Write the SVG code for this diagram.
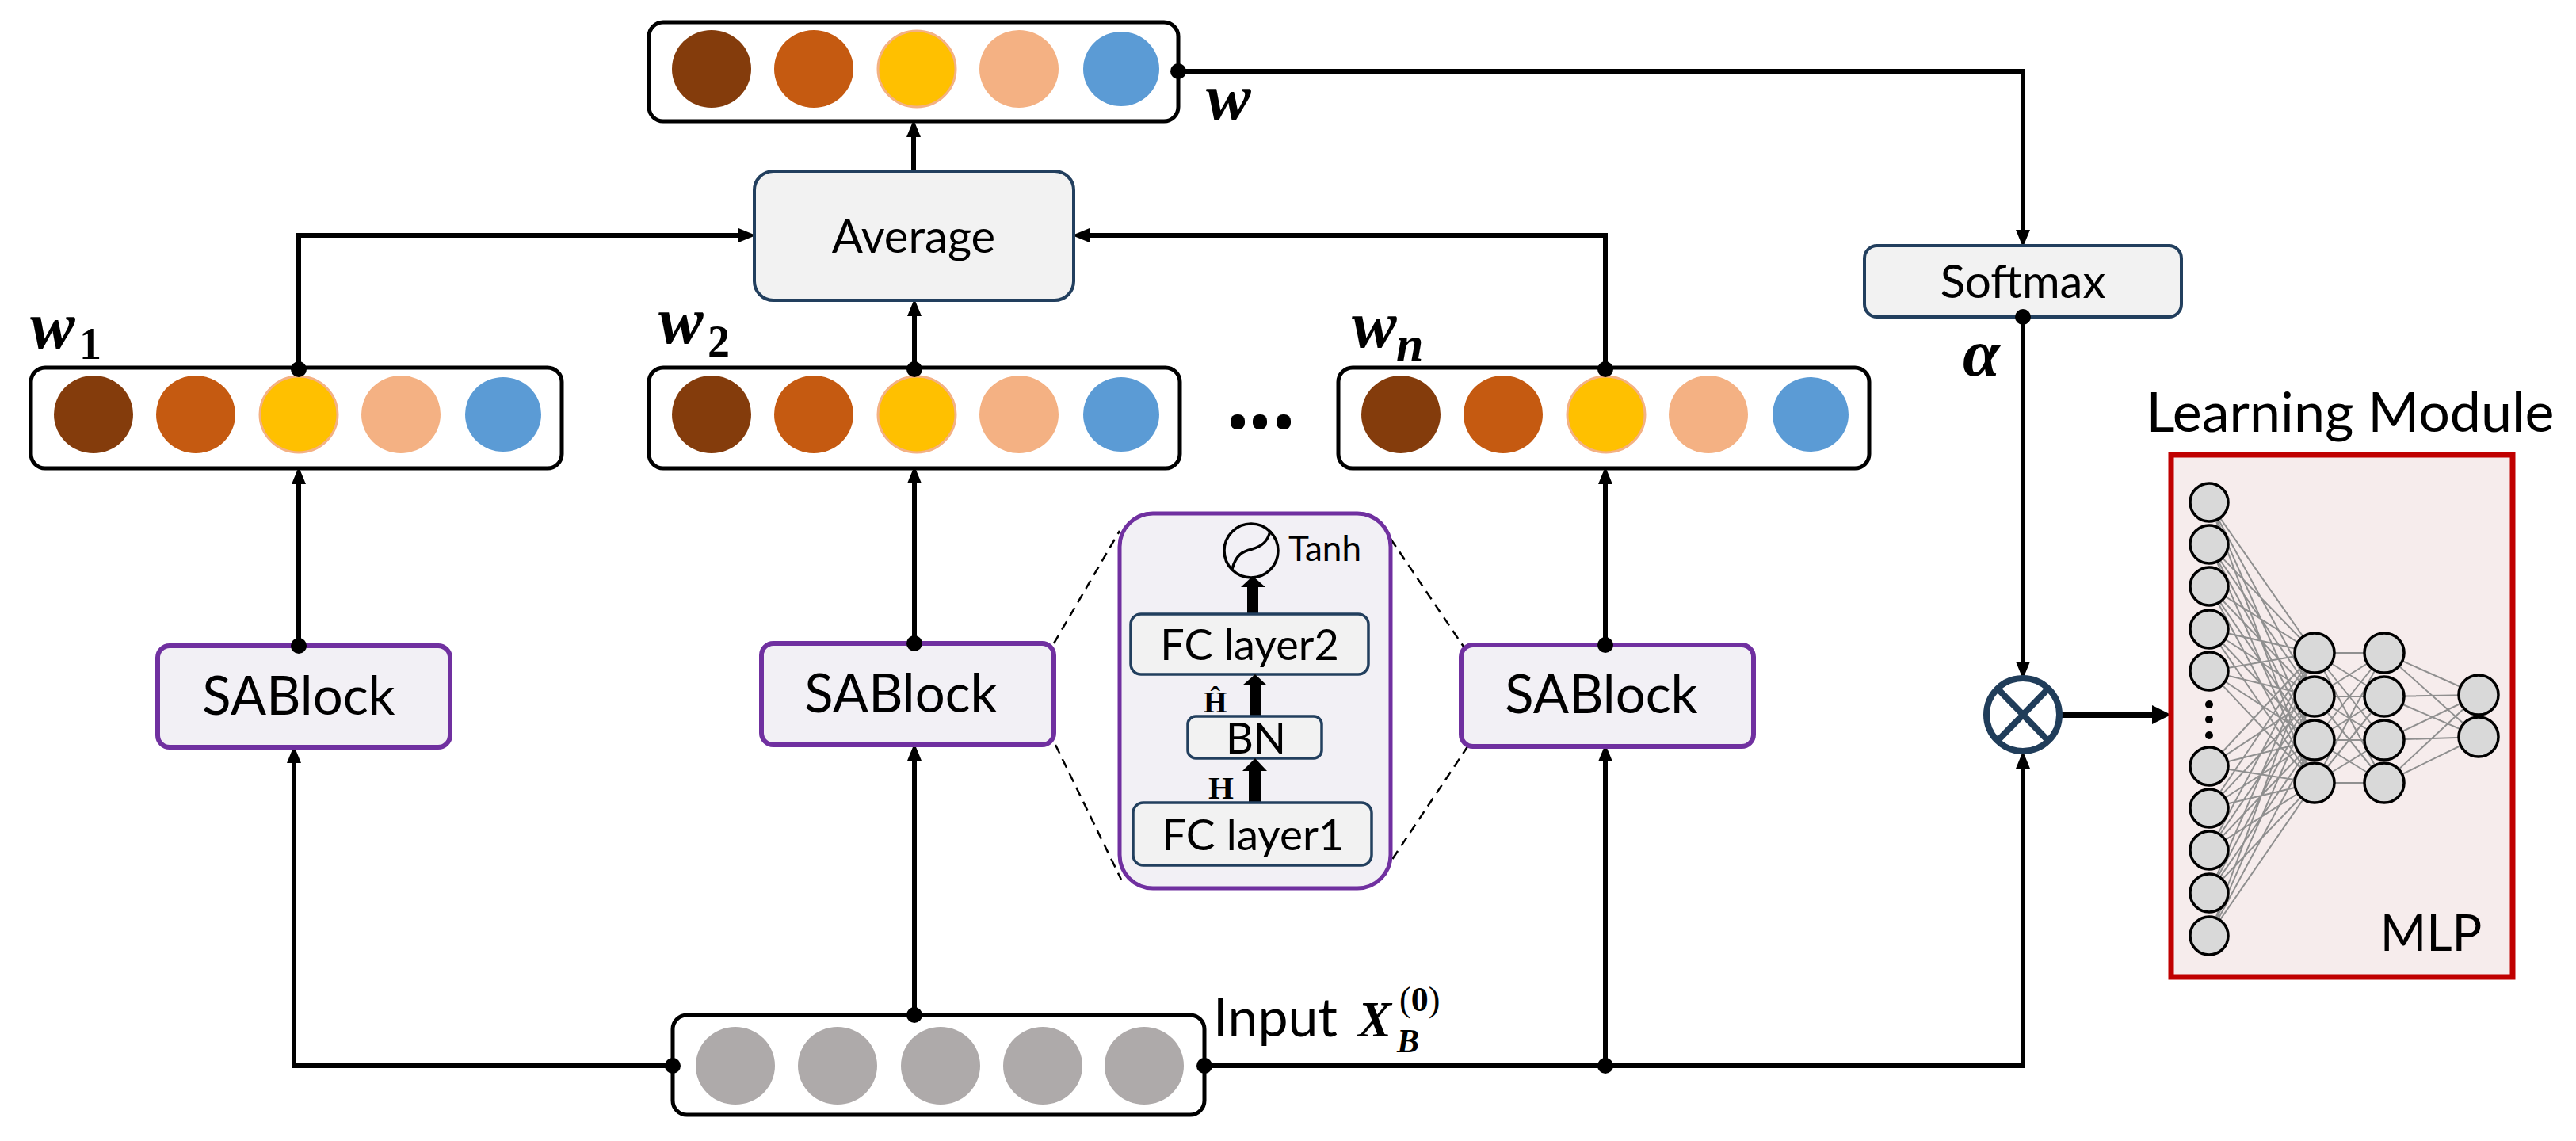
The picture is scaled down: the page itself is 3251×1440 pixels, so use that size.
<svg xmlns="http://www.w3.org/2000/svg" width="3251" height="1440" viewBox="0 0 3251 1440">
<style>
.vec{fill:#fff;stroke:#000;stroke-width:5}
.c1{fill:#843C0C}.c2{fill:#C55A11}.c3{fill:#FFC000;stroke:#F4B183;stroke-width:3}.c4{fill:#F4B183}.c5{fill:#5B9BD5}.cg{fill:#AEAAAA}
.gbox{fill:#F2F2F2;stroke:#223F5E;stroke-width:4}
.sab{fill:#F2F0F5;stroke:#7030A0;stroke-width:6}
.ibox{fill:#F2F2F2;stroke:#223F5E;stroke-width:3.5}
.sans{font-family:Lato,"Liberation Sans","DejaVu Sans",sans-serif;fill:#000}
.math{font-family:"Liberation Serif","DejaVu Serif",serif;font-weight:bold;font-style:italic;fill:#000}
.conn{fill:none;stroke:#000;stroke-width:6}
.dot{fill:#000}
.dash{fill:none;stroke:#000;stroke-width:2.5;stroke-dasharray:12 8}
.nn{fill:#D9D9D9;stroke:#000;stroke-width:3.5}
.nnl{fill:none;stroke:#8F8F8F;stroke-width:2}
</style>
<defs>
<marker id="arr" markerUnits="userSpaceOnUse" markerWidth="22" markerHeight="18" refX="10" refY="9" orient="auto">
<path d="M0,0 L22,9 L0,18 z" fill="#000"/>
</marker>
<marker id="arrB" markerUnits="userSpaceOnUse" markerWidth="24" markerHeight="24" refX="12" refY="12" orient="auto">
<path d="M0,0 L24,12 L0,24 z" fill="#000"/>
</marker>
</defs>
<rect width="3251" height="1440" fill="#fff"/>

<g id="connectors">
<path class="conn" d="M1487,90 H2553 V300" marker-end="url(#arr)"/>
<path class="conn" d="M377,466 V297 H942" marker-end="url(#arr)"/>
<path class="conn" d="M2026,466 V297 H1365" marker-end="url(#arr)"/>
<path class="conn" d="M1154,466 V389" marker-end="url(#arr)"/>
<path class="conn" d="M1153,216 V163" marker-end="url(#arr)"/>
<path class="conn" d="M377,815 V601" marker-end="url(#arr)"/>
<path class="conn" d="M1154,812 V600" marker-end="url(#arr)"/>
<path class="conn" d="M2026,814 V601" marker-end="url(#arr)"/>
<path class="conn" d="M849,1345 H371 V953" marker-end="url(#arr)"/>
<path class="conn" d="M1154,1281 V950" marker-end="url(#arr)"/>
<path class="conn" d="M1520,1345 H2553 V960" marker-end="url(#arr)"/>
<path class="conn" d="M2026,1345 V951" marker-end="url(#arr)"/>
<path class="conn" d="M2553,401 V845" marker-end="url(#arr)"/>
<path class="conn" d="M2601,902 H2728" style="stroke-width:8" marker-end="url(#arrB)"/>
<path class="dash" d="M1330,812 L1413,670"/>
<path class="dash" d="M1332,940 L1415,1110"/>
<path class="dash" d="M1755,680 L1847,816"/>
<path class="dash" d="M1853,941 L1752,1092"/>
</g>

<g id="w-top">
<rect class="vec" x="819" y="28" width="668" height="125" rx="18"/>
<ellipse class="c1" cx="898" cy="87" rx="50" ry="49"/>
<ellipse class="c2" cx="1027" cy="87" rx="50" ry="49"/>
<ellipse class="c3" cx="1157" cy="87" rx="49" ry="48"/>
<ellipse class="c4" cx="1286" cy="87" rx="50" ry="49"/>
<ellipse class="c5" cx="1415" cy="87" rx="48" ry="47"/>
<text class="math" x="1522" y="151" font-size="85">w</text>
</g>

<g id="average">
<rect class="gbox" x="952" y="216" width="403" height="163" rx="24"/>
<text class="sans" x="1153" y="319" font-size="58" text-anchor="middle">Average</text>
</g>

<g id="w1">
<rect class="vec" x="39" y="464" width="670" height="127" rx="18"/>
<ellipse class="c1" cx="118" cy="523" rx="50" ry="49"/>
<ellipse class="c2" cx="247" cy="523" rx="50" ry="49"/>
<ellipse class="c3" cx="377" cy="523" rx="49" ry="48"/>
<ellipse class="c4" cx="506" cy="523" rx="50" ry="49"/>
<ellipse class="c5" cx="635" cy="523" rx="48" ry="47"/>
<text class="math" x="38" y="439" font-size="85">w<tspan x="100" y="453" font-size="56" font-style="normal">1</tspan></text>
</g>

<g id="w2">
<rect class="vec" x="819" y="464" width="670" height="127" rx="18"/>
<ellipse class="c1" cx="898" cy="523" rx="50" ry="49"/>
<ellipse class="c2" cx="1027" cy="523" rx="50" ry="49"/>
<ellipse class="c3" cx="1157" cy="523" rx="49" ry="48"/>
<ellipse class="c4" cx="1286" cy="523" rx="50" ry="49"/>
<ellipse class="c5" cx="1415" cy="523" rx="48" ry="47"/>
<text class="math" x="831" y="433" font-size="85">w<tspan x="893" y="450" font-size="56" font-style="normal">2</tspan></text>
</g>

<g id="ellipsis">
<rect class="dot" x="1553" y="523" width="18" height="19" rx="8"/>
<rect class="dot" x="1581" y="523" width="18" height="19" rx="8"/>
<rect class="dot" x="1611" y="523" width="18" height="19" rx="8"/>
</g>

<g id="wn">
<rect class="vec" x="1689" y="464" width="670" height="127" rx="18"/>
<ellipse class="c1" cx="1768" cy="523" rx="50" ry="49"/>
<ellipse class="c2" cx="1897" cy="523" rx="50" ry="49"/>
<ellipse class="c3" cx="2027" cy="523" rx="49" ry="48"/>
<ellipse class="c4" cx="2156" cy="523" rx="50" ry="49"/>
<ellipse class="c5" cx="2285" cy="523" rx="48" ry="47"/>
<text class="math" x="1706" y="438" font-size="85">w<tspan x="1762" y="455" font-size="62">n</tspan></text>
</g>

<g id="softmax">
<rect class="gbox" x="2353" y="310" width="400" height="90" rx="16"/>
<text class="sans" x="2553" y="376" font-size="58" text-anchor="middle">Softmax</text>
<text class="math" x="2477" y="474" font-size="85">α</text>
</g>

<g id="sablock1">
<rect class="sab" x="199" y="815" width="369" height="128" rx="15"/>
<text class="sans" x="377" y="902" font-size="67" text-anchor="middle">SABlock</text>
</g>
<g id="sablock2">
<rect class="sab" x="961" y="812" width="369" height="128" rx="15"/>
<text class="sans" x="1137" y="899" font-size="67" text-anchor="middle">SABlock</text>
</g>
<g id="sablock3">
<rect class="sab" x="1844" y="814" width="369" height="128" rx="15"/>
<text class="sans" x="2021" y="900" font-size="67" text-anchor="middle">SABlock</text>
</g>

<g id="sablock-detail">
<rect x="1413" y="648" width="342" height="473" rx="42" fill="#F2F0F5" stroke="#7030A0" stroke-width="5"/>
<circle cx="1579" cy="695" r="34" fill="none" stroke="#000" stroke-width="3.5"/>
<path d="M1555,718 C1560,700 1568,696 1580,693 C1592,690 1600,684 1603,670" fill="none" stroke="#000" stroke-width="3.5"/>
<text class="sans" x="1626" y="708" font-size="44">Tanh</text>
<rect x="1574" y="739" width="14" height="37" fill="#000"/>
<path d="M1566,741 L1597,741 L1581,727 z" fill="#000"/>
<rect class="ibox" x="1427" y="775" width="300" height="76" rx="13"/>
<text class="sans" x="1577" y="833" font-size="54" text-anchor="middle">FC layer2</text>
<rect x="1577" y="863" width="14" height="42" fill="#000"/>
<path d="M1568,865 L1599,865 L1584,851 z" fill="#000"/>
<text x="1519" y="899" font-family="Liberation Serif,DejaVu Serif,serif" font-weight="bold" font-size="38">Ĥ</text>
<rect class="ibox" x="1499" y="904" width="169" height="53" rx="10"/>
<text class="sans" x="1585" y="951" font-size="54" text-anchor="middle">BN</text>
<rect x="1576" y="971" width="15" height="43" fill="#000"/>
<path d="M1568,973 L1599,973 L1584,957 z" fill="#000"/>
<text x="1525" y="1008" font-family="Liberation Serif,DejaVu Serif,serif" font-weight="bold" font-size="41">H</text>
<rect class="ibox" x="1430" y="1013" width="301" height="79" rx="13"/>
<text class="sans" x="1581" y="1073" font-size="55" text-anchor="middle">FC layer1</text>
</g>

<g id="input">
<rect class="vec" x="849" y="1281" width="671" height="126" rx="18"/>
<ellipse class="cg" cx="928" cy="1345" rx="50" ry="49"/>
<ellipse class="cg" cx="1057" cy="1345" rx="50" ry="49"/>
<ellipse class="cg" cx="1187" cy="1345" rx="50" ry="49"/>
<ellipse class="cg" cx="1316" cy="1345" rx="50" ry="49"/>
<ellipse class="cg" cx="1444" cy="1345" rx="50" ry="49"/>
<text class="sans" x="1531" y="1308" font-size="68">Input</text>
<text class="math" x="1714" y="1308" font-size="63">X</text>
<text class="math" x="1763" y="1328" font-size="42">B</text>
<text x="1766" y="1276" font-family="Liberation Serif,DejaVu Serif,serif" font-size="44">(<tspan font-weight="bold">0</tspan>)</text>
</g>

<g id="multiply">
<circle cx="2553" cy="902" r="46" fill="#fff" stroke="#203D5A" stroke-width="8"/>
<path d="M2521,869 L2585,935 M2585,869 L2521,935" stroke="#203D5A" stroke-width="8"/>
</g>

<g id="junction-dots">
<circle class="dot" cx="1487" cy="90" r="10"/>
<circle class="dot" cx="377" cy="466" r="10"/>
<circle class="dot" cx="1154" cy="466" r="10"/>
<circle class="dot" cx="2026" cy="466" r="10"/>
<circle class="dot" cx="377" cy="815" r="10"/>
<circle class="dot" cx="1154" cy="812" r="10"/>
<circle class="dot" cx="2026" cy="814" r="10"/>
<circle class="dot" cx="849" cy="1345" r="10"/>
<circle class="dot" cx="1154" cy="1281" r="10"/>
<circle class="dot" cx="1520" cy="1345" r="10"/>
<circle class="dot" cx="2026" cy="1345" r="10"/>
<circle class="dot" cx="2553" cy="400" r="10"/>
</g>

<g id="learning-module">
<text class="sans" x="2966" y="545" font-size="70" text-anchor="middle">Learning Module</text>
<rect x="2740" y="574" width="431" height="659" fill="#F6ECEC" stroke="#C00000" stroke-width="7"/>
<path class="nnl" d="M2788 634L2921 824M2788 634L2921 879M2788 634L2921 934M2788 634L2921 988M2788 687L2921 824M2788 687L2921 879M2788 687L2921 934M2788 687L2921 988M2788 740L2921 824M2788 740L2921 879M2788 740L2921 934M2788 740L2921 988M2788 794L2921 824M2788 794L2921 879M2788 794L2921 934M2788 794L2921 988M2788 847L2921 824M2788 847L2921 879M2788 847L2921 934M2788 847L2921 988M2788 967L2921 824M2788 967L2921 879M2788 967L2921 934M2788 967L2921 988M2788 1020L2921 824M2788 1020L2921 879M2788 1020L2921 934M2788 1020L2921 988M2788 1073L2921 824M2788 1073L2921 879M2788 1073L2921 934M2788 1073L2921 988M2788 1127L2921 824M2788 1127L2921 879M2788 1127L2921 934M2788 1127L2921 988M2788 1181L2921 824M2788 1181L2921 879M2788 1181L2921 934M2788 1181L2921 988"/>
<path class="nnl" d="M2921 824L3009 824M2921 824L3009 879M2921 824L3009 934M2921 824L3009 988M2921 879L3009 824M2921 879L3009 879M2921 879L3009 934M2921 879L3009 988M2921 934L3009 824M2921 934L3009 879M2921 934L3009 934M2921 934L3009 988M2921 988L3009 824M2921 988L3009 879M2921 988L3009 934M2921 988L3009 988"/>
<path class="nnl" d="M3009 824L3128 877M3009 824L3128 930M3009 879L3128 877M3009 879L3128 930M3009 934L3128 877M3009 934L3128 930M3009 988L3128 877M3009 988L3128 930"/>
<circle class="nn" cx="2788" cy="634" r="24"/>
<circle class="nn" cx="2788" cy="687" r="24"/>
<circle class="nn" cx="2788" cy="740" r="24"/>
<circle class="nn" cx="2788" cy="794" r="24"/>
<circle class="nn" cx="2788" cy="847" r="24"/>
<circle class="dot" cx="2788" cy="889" r="5"/>
<circle class="dot" cx="2788" cy="908" r="5"/>
<circle class="dot" cx="2788" cy="928" r="5"/>
<circle class="nn" cx="2788" cy="967" r="24"/>
<circle class="nn" cx="2788" cy="1020" r="24"/>
<circle class="nn" cx="2788" cy="1073" r="24"/>
<circle class="nn" cx="2788" cy="1127" r="24"/>
<circle class="nn" cx="2788" cy="1181" r="24"/>
<circle class="nn" cx="2921" cy="824" r="25"/>
<circle class="nn" cx="2921" cy="879" r="25"/>
<circle class="nn" cx="2921" cy="934" r="25"/>
<circle class="nn" cx="2921" cy="988" r="25"/>
<circle class="nn" cx="3009" cy="824" r="25"/>
<circle class="nn" cx="3009" cy="879" r="25"/>
<circle class="nn" cx="3009" cy="934" r="25"/>
<circle class="nn" cx="3009" cy="988" r="25"/>
<circle class="nn" cx="3128" cy="877" r="25"/>
<circle class="nn" cx="3128" cy="930" r="25"/>
<text class="sans" x="3068" y="1200" font-size="63" text-anchor="middle">MLP</text>
</g>
</svg>
